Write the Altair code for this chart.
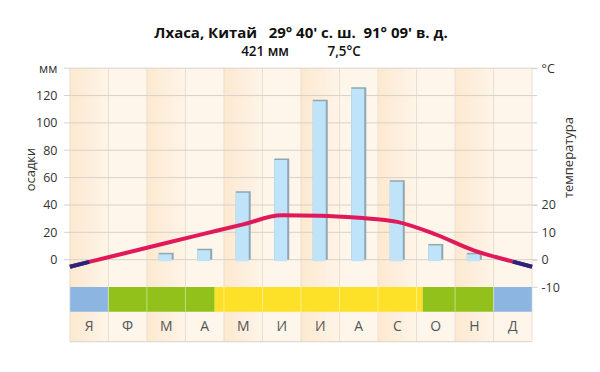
import altair as alt
import pandas as pd

# ---------------- data ----------------
months = ["Я", "Ф", "М", "А", "М", "И", "И", "А", "С", "О", "Н", "Д"]
precip_mm = [0, 0, 5, 8, 50, 74, 117, 126, 58, 11.5, 5, 0]
temp_c = [-0.8, 2.6, 6.1, 9.5, 12.9, 16.2, 16.1, 15.3, 13.8, 9.2, 3.3, -0.7]
temp_edge = -2.6  # value of the curve at the left/right borders

mm_grid = [0, 20, 40, 60, 80, 100, 120, 140]
temp_ticks = [-10, 0, 10, 20, 70]

season_start = [0, 1, 3.76, 9.16, 11]
season_end = [1, 3.76, 9.16, 11, 12]
season_color = ["#8db5e2", "#93c11c", "#fde128", "#93c11c", "#8db5e2"]

title_text = "Лхаса, Китай\u00a0\u00a0\u00a029° 40' с. ш.\u00a0\u00a091° 09' в. д."
subtitle_text = "421 мм\u00a0\u00a0\u00a0\u00a0\u00a0\u00a0\u00a0\u00a0\u00a0\u00a0\u00a07,5°C"

# ---------------- layout constants ----------------
MM_DOMAIN = [-60, 140]
T_DOMAIN = [-30, 70]
BAND_LO, BAND_HI = -38, -20
LABEL_Y = -49
FONT = "Open Sans"
GRID = "#d8d2c9"
BORDER = "#eadfcf"

n = len(months)
df = pd.DataFrame({
    "i": list(range(n)),
    "m": months,
    "p": precip_mm,
    "t": temp_c,
})
df["x0"] = df["i"]
df["x1"] = df["i"] + 1
df["xc"] = df["i"] + 0.5
df["odd"] = df["i"] % 2

xscale = alt.Scale(domain=[0, n], nice=False, zero=False, padding=0)
mmscale = alt.Scale(domain=MM_DOMAIN, nice=False, zero=False)
tscale = alt.Scale(domain=T_DOMAIN, nice=False, zero=False)

AX_MM = alt.Axis(
    orient="left", values=mm_grid,
    labelExpr="datum.value == 140 ? 'мм' : datum.label",
    ticks=False, domain=False, grid=False,
    labelPadding=13, labelFont=FONT, labelFontSize=12.5, labelColor="#333",
    title="осадки", titleFont=FONT, titleFontSize=13, titleFontWeight="normal",
    titleColor="#333", titleAngle=270, titleX=-39, titleY=101,
    titleBaseline="middle", titleAlign="center",
)
AX_T = alt.Axis(
    orient="right", values=temp_ticks,
    labelExpr="datum.value == 70 ? '°C' : '' + datum.value",
    ticks=True, tickSize=5, tickColor=GRID, domain=False, grid=False,
    labelPadding=4, labelFont=FONT, labelFontSize=12.5, labelColor="#333",
    title="температура", titleFont=FONT, titleFontSize=13, titleFontWeight="normal",
    titleColor="#333", titleAngle=270, titleX=36, titleY=89,
    titleBaseline="middle", titleAlign="center",
)


def X(field):
    return alt.X(field, type="quantitative", scale=xscale, axis=None)


def Ymm(value):
    return alt.YDatum(value, scale=mmscale, axis=AX_MM)


base = alt.Chart(df)

# background columns
bg_light = base.transform_filter("datum.odd == 1").mark_rect(color="#fef6ea").encode(
    x=X("x0"), x2="x1", y=Ymm(MM_DOMAIN[0]), y2=alt.Y2Datum(MM_DOMAIN[1])
)
bg_peach = base.transform_filter("datum.odd == 0").mark_rect(
    color=alt.Gradient(
        gradient="linear",
        stops=[
            alt.GradientStop(color="#fde9cf", offset=0),
            alt.GradientStop(color="#fdeedd", offset=0.5),
            alt.GradientStop(color="#fef5e8", offset=1),
        ],
        x1=0, x2=1, y1=0, y2=0,
    )
).encode(x=X("x0"), x2="x1", y=Ymm(MM_DOMAIN[0]), y2=alt.Y2Datum(MM_DOMAIN[1]))

# column borders
borders_df = pd.DataFrame({"b": list(range(n + 1))})
col_borders = alt.Chart(borders_df).mark_rule(color=BORDER, strokeWidth=1).encode(
    x=X("b"), y=Ymm(MM_DOMAIN[0]), y2=alt.Y2Datum(MM_DOMAIN[1])
)

# horizontal grid lines (with left axis)
grid_df = pd.DataFrame({"g": mm_grid, "a": 0, "b": n})
grid = alt.Chart(grid_df).mark_rule(color=GRID, strokeWidth=1, xOffset=-6, x2Offset=5).encode(
    x=X("a"), x2="b",
    y=alt.Y("g:Q", scale=mmscale, axis=AX_MM),
)

bottom_df = pd.DataFrame({"a": [0], "b": [n]})
bottom_line = alt.Chart(bottom_df).mark_rule(color=GRID, strokeWidth=1).encode(
    x=X("a"), x2="b", y=Ymm(MM_DOMAIN[0])
)

# season band
band_df = pd.DataFrame({"s": season_start, "e": season_end, "c": season_color})
band = alt.Chart(band_df).mark_rect().encode(
    x=X("s"), x2="e", y=Ymm(BAND_LO), y2=alt.Y2Datum(BAND_HI),
    color=alt.Color("c:N", scale=None, legend=None),
)
band_borders = alt.Chart(borders_df).mark_rule(color="white", opacity=0.45, strokeWidth=1).encode(
    x=X("b"), y=Ymm(BAND_LO), y2=alt.Y2Datum(BAND_HI)
)

# precipitation bars
bars_src = base.transform_filter("datum.p > 0")
bar_shadow = bars_src.mark_bar(size=15, color="#8ea7b5").encode(
    x=X("xc"), y=alt.Y("p:Q", scale=mmscale, axis=AX_MM)
)
bar_face = bars_src.mark_bar(size=13, xOffset=-1, yOffset=1.5, color="#bfe3f8").encode(
    x=X("xc"), y=alt.Y("p:Q", scale=mmscale, axis=AX_MM)
)

# month labels
labels = base.mark_text(font=FONT, fontSize=14, color="#555").encode(
    x=X("xc"), y=Ymm(LABEL_Y), text="m:N"
)

mm_layers = alt.layer(
    bg_light, bg_peach, col_borders, grid, bottom_line, band, band_borders,
    bar_shadow, bar_face, labels,
)

# temperature curve
line_df = pd.DataFrame({
    "x": [0] + [i + 0.5 for i in range(n)] + [n],
    "t": [temp_edge] + temp_c + [temp_edge],
})
red_line = alt.Chart(line_df).mark_line(
    color="#e0195b", strokeWidth=4, interpolate="monotone"
).encode(
    x=X("x"),
    y=alt.Y("t:Q", scale=tscale, axis=AX_T),
)
cold_df = pd.DataFrame({
    "x": [0, 0.5, n - 0.5, n],
    "t": [temp_edge, temp_c[0], temp_c[-1], temp_edge],
    "seg": ["a", "a", "b", "b"],
})
blue_line = alt.Chart(cold_df).mark_line(color="#28267c", strokeWidth=4).encode(
    x=X("x"), y=alt.Y("t:Q", scale=tscale, axis=AX_T), detail="seg:N"
)
t_layers = alt.layer(red_line, blue_line)

chart = (
    alt.layer(mm_layers, t_layers)
    .resolve_scale(y="independent")
    .properties(
        width=463,
        height=274,
        autosize=alt.AutoSizeParams(type="none"),
        padding={"left": 62, "top": 60, "right": 60, "bottom": 16},
        title=alt.TitleParams(
            text=title_text, subtitle=subtitle_text,
            font=FONT, fontSize=15, fontWeight="bold", color="#111",
            subtitleFont=FONT, subtitleFontSize=13.5, subtitleFontWeight=600,
            subtitleColor="#111", subtitlePadding=4, anchor="middle", offset=4,
        ),
    )
    .configure_view(stroke=None)
)

chart.save("out.html", embed_options={"renderer": "svg", "actions": False})
